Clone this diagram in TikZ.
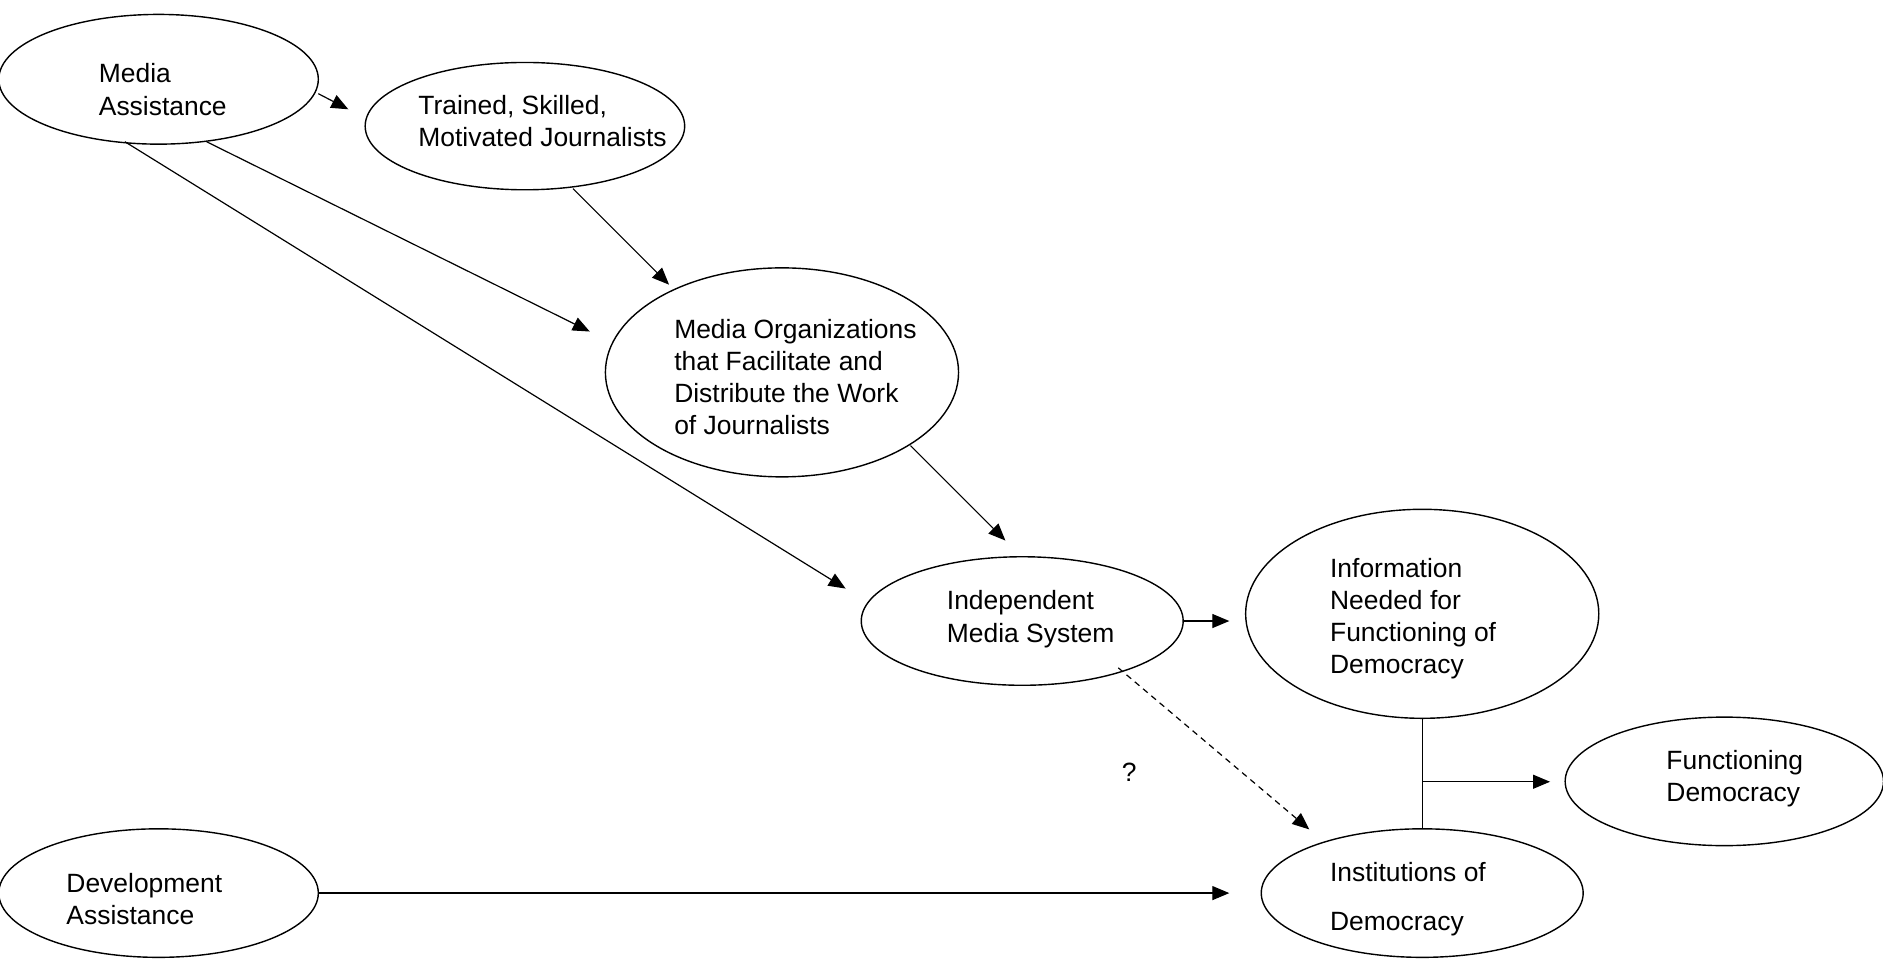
\documentclass[tikz,border=0pt]{standalone}
\usepackage{fontspec}
\setmainfont{Liberation Sans}
\usetikzlibrary{shapes.geometric,arrows.meta,calc}
\begin{document}
\begin{tikzpicture}[x=0.6pt,y=-0.6pt,
  ell/.style={draw, ellipse, inner sep=0pt, line width=0.7pt},
  lbl/.style={inner sep=0pt, anchor=west, align=left, font=\fontsize{13.2pt}{16.1pt}\selectfont},
  arr/.style={line width=0.6pt, -{Triangle[length=8.5pt,width=7pt]}},
  ln/.style={line width=0.6pt}]
\useasboundingbox (0,0) rectangle (1567.6,804);
% ellipses
\node[ell, minimum width=159.6pt, minimum height=64.8pt] (ma) at (132,66) {};
\node[ell, minimum width=159.6pt, minimum height=63.6pt] (tr) at (437,105) {};
\node[ell, minimum width=176.4pt, minimum height=104.4pt] (mo) at (651,310) {};
\node[ell, minimum width=160.8pt, minimum height=64.2pt] (im) at (851,517) {};
\node[ell, minimum width=176.4pt, minimum height=104.4pt] (inf) at (1184,511) {};
\node[ell, minimum width=159pt, minimum height=64.2pt] (fd) at (1435.5,650.5) {};
\node[ell, minimum width=160.8pt, minimum height=64.2pt] (ins) at (1184,743.5) {};
\node[ell, minimum width=159.6pt, minimum height=64.2pt] (da) at (132,743.5) {};
% labels
\node[lbl] (tma) at (82,74.5) {Media\\Assistance};
\node[lbl] (ttr) at (348,101) {Trained, Skilled,\\Motivated Journalists};
\node[lbl] (tmo) at (561,314) {Media Organizations\\that Facilitate and\\Distribute the Work\\of Journalists};
\node[lbl] (tim) at (788,515.5) {Independent\\Media System};
\node[lbl] (tinf) at (1107,515) {Information\\Needed for\\Functioning of\\Democracy};
\node[lbl] (tfd) at (1387,648.5) {Functioning\\Democracy};
\node[lbl] (tins) at (1107,748.5) {Institutions of\\[8.4pt]Democracy};
\node[lbl] (tda) at (55,748.5) {Development\\Assistance};
\node[lbl, anchor=center] (q) at (940,643) {?};
% connectors
\draw[arr] ($(ma)+(133,12)$) -- ($(tr)+(-147,-14)$);
\draw[arr] ($(ma)+(40,52)$) -- ($(mo)+(-160,-34)$);
\draw[arr] ($(ma)+(-28,52)$) -- ($(im)+(-147,-27)$);
\draw[arr] ($(tr)+(40,52)$) -- ($(mo)+(-94,-73)$);
\draw[arr] ($(mo)+(107,61)$) -- ($(im)+(-14,-67)$);
\draw[arr] (im.east) -- ($(im.east -| inf.west)+(-13,0)$);
\draw[arr, dash pattern=on 3pt off 2.4pt] ($(im)+(80,39)$) -- ($(ins)+(-94,-53)$);
\draw[ln] (inf.south) -- (ins.north);
\coordinate (j) at ($(inf.south)!0.575!(ins.north)$);
\draw[arr] (j) -- ($(j -| fd.west)+(-12,0)$);
\draw[arr] (da.east) -- ($(da.east -| ins.west)+(-26,0)$);
\end{tikzpicture}
\end{document}
